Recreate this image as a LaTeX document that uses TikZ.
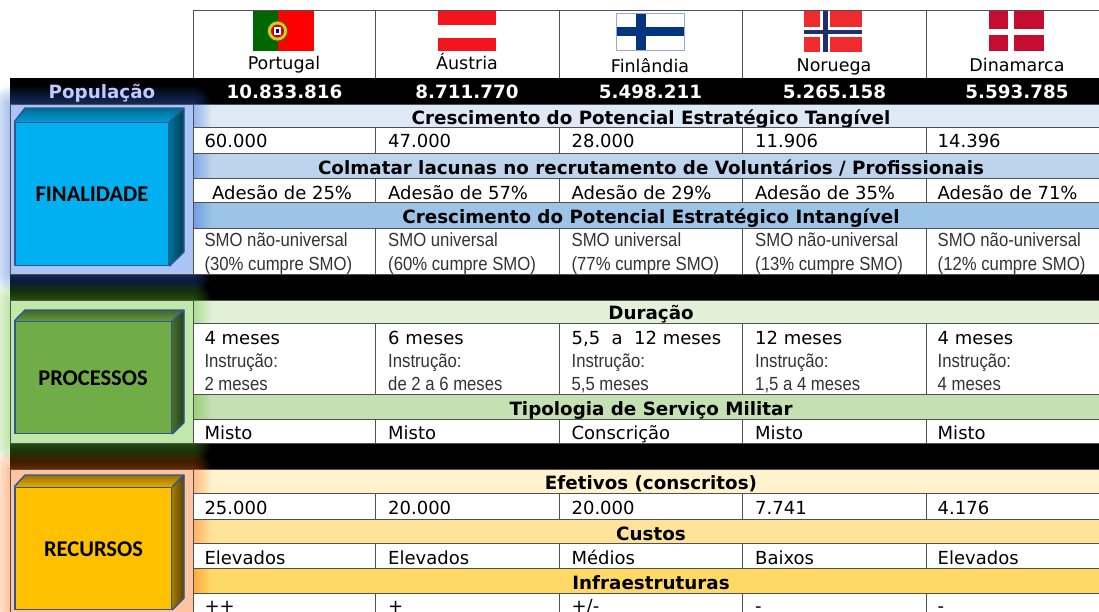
\documentclass[tikz,border=0pt]{standalone}
\usepackage{fontspec}
\setmainfont{DejaVu Sans}
\newfontfamily\smof[FakeStretch=0.88]{Liberation Sans}
\newfontfamily\boxf{Carlito}
\definecolor{gridc}{HTML}{505050}
\definecolor{bluA}{HTML}{DDE9F6}\definecolor{bluB}{HTML}{BDD4EC}\definecolor{bluC}{HTML}{9DC3E6}
\definecolor{grnA}{HTML}{E2EFD9}\definecolor{grnB}{HTML}{C5E0B3}
\definecolor{orgA}{HTML}{FFF2CC}\definecolor{orgB}{HTML}{FFE399}\definecolor{orgC}{HTML}{FFD966}
\definecolor{pnlB}{HTML}{A9C4F5}\definecolor{pnlG}{HTML}{C0E8A8}\definecolor{pnlO}{HTML}{FFC49F}
\definecolor{edgeb}{HTML}{2F5597}
\definecolor{boxfa}{HTML}{00B0F0}\definecolor{boxfb}{HTML}{70AD47}\definecolor{boxfc}{HTML}{FFC000}
\definecolor{dkred}{HTML}{C60C30}\definecolor{nored}{HTML}{EF2B2D}\definecolor{norblue}{HTML}{1F2F70}
\definecolor{finblue}{HTML}{003580}\definecolor{finedge}{HTML}{8FAADC}\definecolor{ausred}{HTML}{F5141E}
\definecolor{glowb}{HTML}{3C78F0}\definecolor{glowg}{HTML}{6FD03C}\definecolor{glowo}{HTML}{FF7A20}
\tikzset{
  cellbox/.style={draw=gridc,line width=.8pt,fill=white,inner sep=0pt,rectangle},
  bandbox/.style={draw=gridc,line width=.8pt,inner sep=0pt,rectangle},
  bandtxt/.style={anchor=base,inner sep=0pt,font=\fontsize{18.3}{18}\selectfont\bfseries,text=black},
  ctry/.style={anchor=base,inner sep=0pt,font=\fontsize{17.5}{18}\selectfont,text=black},
  popn/.style={anchor=base,inner sep=0pt,font=\fontsize{18.3}{18}\selectfont\bfseries,text=white},
  val/.style={anchor=base west,inner sep=0pt,font=\fontsize{18}{18}\selectfont,text=black},
  note/.style={anchor=base west,inner sep=0pt,font=\smof\fontsize{19}{19}\selectfont,text=black!80},
  boxlab/.style={anchor=base,inner sep=0pt,font=\boxf\fontsize{22.5}{23}\selectfont\bfseries,text=black},
  edge3d/.style={draw=edgeb,line width=1.4pt,line join=round},
}
% band: name, top, bottom, colour, baseline, text
\newcommand\bandrow[6]{%
  \pgfmathsetmacro\bh{#3-#2}\pgfmathsetmacro\by{(#2+#3)/2}%
  \node[bandbox,fill=#4,minimum width=916pt,minimum height=\bh pt] (#1) at (651,\by) {};%
  \node[bandtxt] (#1t) at (651,#5) {#6};}
% texts of a row: first x, name, baseline, style, five texts
\newcommand\rowtext[9][204.3]{%
  \node[#4] (#2a) at (#1,#3) {#5};%
  \node[#4] (#2b) at (388,#3) {#6};%
  \node[#4] (#2c) at (571.4,#3) {#7};%
  \node[#4] (#2d) at (755,#3) {#8};%
  \node[#4] (#2e) at (937.5,#3) {#9};}
% 3D box: name, front right x, top y, bottom y, back top y, back bottom y, colour
\newcommand\threedbox[7]{%
  \def\xa{15}\def\xb{#2}\def\ya{#3}\def\yb{#4}\def\bt{#5}\def\bb{#6}%
  \fill[top color=#7!60!black,bottom color=#7!90!black] (\xa,\ya) -- (25,\bt) -- (184,\bt) -- (\xb,\ya) -- cycle;%
  \fill[left color=#7!65!black,right color=#7!35!black] (\xb,\ya) -- (184,\bt) -- (184,\bb) -- (\xb,\yb) -- cycle;%
  \pgfmathsetmacro\bw{\xb-\xa}\pgfmathsetmacro\bh{\yb-\ya}\pgfmathsetmacro\bx{(\xa+\xb)/2}\pgfmathsetmacro\bY{(\ya+\yb)/2}%
  \node[rectangle,fill=#7,edge3d,inner sep=0pt,minimum width=\bw pt,minimum height=\bh pt] (#1) at (\bx,\bY) {};%
  \draw[edge3d] (#1.north west) -- (25,\bt) -- (184,\bt) -- (#1.north east);%
  \draw[edge3d] (184,\bt) -- (184,\bb) -- (#1.south east);}
\newcommand\glowrect[3]{%
  \foreach \i in {1,...,18}{\fill[#1,opacity=.028,rounded corners=\i pt] (10-\i,#2-\i) rectangle (193+\i,#3+\i);}}
\begin{document}
\begin{tikzpicture}[x=1pt,y=-1pt]
\useasboundingbox (0,0) rectangle (1099,611);
\clip (0,0) rectangle (1099,611);
\fill[white] (0,0) rectangle (1099,611);
% header row
\foreach \c/\xa/\xb in {1/193/375,2/375/559,3/559/742,4/742/926,5/926/1109}{
  \pgfmathsetmacro\w{\xb-\xa}\pgfmathsetmacro\cx{(\xa+\xb)/2}
  \node[cellbox,minimum width=\w pt,minimum height=68pt] (head\c) at (\cx,44.5) {};
}
% black bars
\node[rectangle,fill=black,inner sep=0pt,minimum width=1089pt,minimum height=26pt] (popbar) at (554.5,91) {};
\node[rectangle,fill=black,inner sep=0pt,minimum width=1089pt,minimum height=26pt] (gapone) at (554.5,287) {};
\node[rectangle,fill=black,inner sep=0pt,minimum width=1089pt,minimum height=25.3pt] (gaptwo) at (554.5,456.4) {};
% bands
\bandrow{bA}{104}{127.5}{bluA}{124}{Crescimento do Potencial Estratégico Tangível}
\bandrow{bB}{153}{178}{bluB}{174}{Colmatar lacunas no recrutamento de Voluntários / Profissionais}
\bandrow{bC}{202.5}{228}{bluC}{223.3}{Crescimento do Potencial Estratégico Intangível}
\bandrow{bD}{300}{323.7}{grnA}{319.3}{Duração}
\bandrow{bE}{394.3}{419}{grnB}{415}{Tipologia de Serviço Militar}
\bandrow{bF}{469}{493.7}{orgA}{489.3}{Efetivos (conscritos)}
\bandrow{bG}{519}{543.3}{orgB}{540}{Custos}
\bandrow{bH}{568.7}{593.7}{orgC}{589.3}{Infraestruturas}
% glows
\glowrect{glowb}{104}{274}
\glowrect{glowg}{300}{443.7}
\glowrect{glowo}{469}{640}
% body cells
\foreach \r/\ya/\yb in {A/127.5/153,B/178/202.5,C/228/274,D/323.7/394.3,E/419/443.7,F/493.7/519,G/543.3/568.7,H/593.7/640}{
  \foreach \c/\xa/\xb in {1/193/375,2/375/559,3/559/742,4/742/926,5/926/1109}{
    \pgfmathsetmacro\w{\xb-\xa}\pgfmathsetmacro\h{\yb-\ya}\pgfmathsetmacro\cx{(\xa+\xb)/2}\pgfmathsetmacro\cy{(\ya+\yb)/2}
    \node[cellbox,minimum width=\w pt,minimum height=\h pt] (cell\r\c) at (\cx,\cy) {};
  }
}
% left panels
\node[rectangle,fill=pnlB,draw=gridc,line width=.7pt,inner sep=0pt,minimum width=183pt,minimum height=170pt] (panelA) at (101.5,189) {};
\node[rectangle,fill=pnlG,draw=gridc,line width=.7pt,inner sep=0pt,minimum width=183pt,minimum height=143.7pt] (panelB) at (101.5,371.85) {};
\node[rectangle,fill=pnlO,draw=gridc,line width=.7pt,inner sep=0pt,minimum width=183pt,minimum height=171pt] (panelC) at (101.5,554.5) {};
% 3D boxes
\threedbox{boxA}{168.6}{122.5}{265.5}{108}{252}{boxfa}
\threedbox{boxB}{171.5}{321.7}{433.3}{310}{422.7}{boxfb}
\threedbox{boxC}{171.5}{487.3}{609.3}{475}{598}{boxfc}
\node[boxlab] (labA) at (92,201) {FINALIDADE};
\node[boxlab] (labB) at (93,385) {PROCESSOS};
\node[boxlab] (labC) at (93.5,556) {RECURSOS};
% Portugal flag
\fill[red] (253,11.3) rectangle (314,50.7);
\fill[green!40!black] (253,11.3) rectangle (277.5,50.7);
\node[circle,fill=yellow!80!black,draw=green!50!black,line width=.6pt,inner sep=0pt,minimum size=20pt] (pte) at (277.5,31) {};
\node[circle,fill=red!85!black,inner sep=0pt,minimum size=13pt] (ptf) at (277.5,31) {};
\node[rectangle,fill=white,inner sep=0pt,minimum width=7pt,minimum height=8pt] (ptg) at (277.5,31) {};
\node[rectangle,fill=blue!60!black,inner sep=0pt,minimum width=3pt,minimum height=4pt] (pth) at (277.5,31) {};
% Austria flag
\fill[ausred] (437.5,11) rectangle (496.4,24.5);
\fill[ausred] (437.5,37.7) rectangle (496.4,51);
% Finland flag
\fill[white,draw=finedge,line width=.8pt] (616.8,13.7) rectangle (684.3,50);
\fill[finblue] (635.7,14.1) rectangle (646.4,49.6);
\fill[finblue] (617.2,27.3) rectangle (683.9,35.7);
% Norway flag
\fill[nored] (804.3,11) rectangle (862,51.7);
\fill[white] (819.6,11) rectangle (830,51.7);
\fill[white] (804.3,26.7) rectangle (862,37.3);
\fill[norblue] (822.9,11) rectangle (827.5,51.7);
\fill[norblue] (804.3,29.7) rectangle (862,34.3);
% Denmark flag
\fill[dkred] (989.3,11) rectangle (1044.3,51.3);
\fill[white] (1007.9,11) rectangle (1014,51.3);
\fill[white] (989.3,28.7) rectangle (1044.3,35);
% header texts
\node[ctry] (nPT) at (284,69) {Portugal};
\node[ctry] (nAT) at (467,69) {Áustria};
\node[ctry] (nFI) at (650,72.7) {Finlândia};
\node[ctry] (nNO) at (834,71) {Noruega};
\node[ctry] (nDK) at (1017,71) {Dinamarca};
\node[popn,text=blue!22!white] (popL) at (102,98.3) {População};
\node[popn] (pop1) at (284.5,98.3) {10.833.816};
\node[popn] (pop2) at (467,98.3) {8.711.770};
\node[popn] (pop3) at (650.5,98.3) {5.498.211};
\node[popn] (pop4) at (834.5,98.3) {5.265.158};
\node[popn] (pop5) at (1017,98.3) {5.593.785};
% cell texts
\rowtext{tA}{147.7}{val}{60.000}{47.000}{28.000}{11.906}{14.396}
\rowtext[212]{tB}{199}{val}{Adesão de 25\%}{Adesão de 57\%}{Adesão de 29\%}{Adesão de 35\%}{Adesão de 71\%}
\rowtext{tC}{246.7}{note}{SMO não-universal}{SMO universal}{SMO universal}{SMO não-universal}{SMO não-universal}
\rowtext{tD}{270}{note}{(30\% cumpre SMO)}{(60\% cumpre SMO)}{(77\% cumpre SMO)}{(13\% cumpre SMO)}{(12\% cumpre SMO)}
\rowtext{tE}{344.3}{val}{4 meses}{6 meses}{5,5\ \ a\ \ 12 meses}{12 meses}{4 meses}
\rowtext{tF}{367.3}{note}{Instrução:}{Instrução:}{Instrução:}{Instrução:}{Instrução:}
\rowtext{tG}{390}{note}{2 meses}{de 2 a 6 meses}{5,5 meses}{1,5 a 4 meses}{4 meses}
\rowtext{tH}{439.3}{val}{Misto}{Misto}{Conscrição}{Misto}{Misto}
\rowtext{tI}{514}{val}{25.000}{20.000}{20.000}{7.741}{4.176}
\rowtext{tJ}{564}{val}{Elevados}{Elevados}{Médios}{Baixos}{Elevados}
\rowtext{tK}{612}{val}{++}{+}{+/-}{-}{-}
\end{tikzpicture}
\end{document}
